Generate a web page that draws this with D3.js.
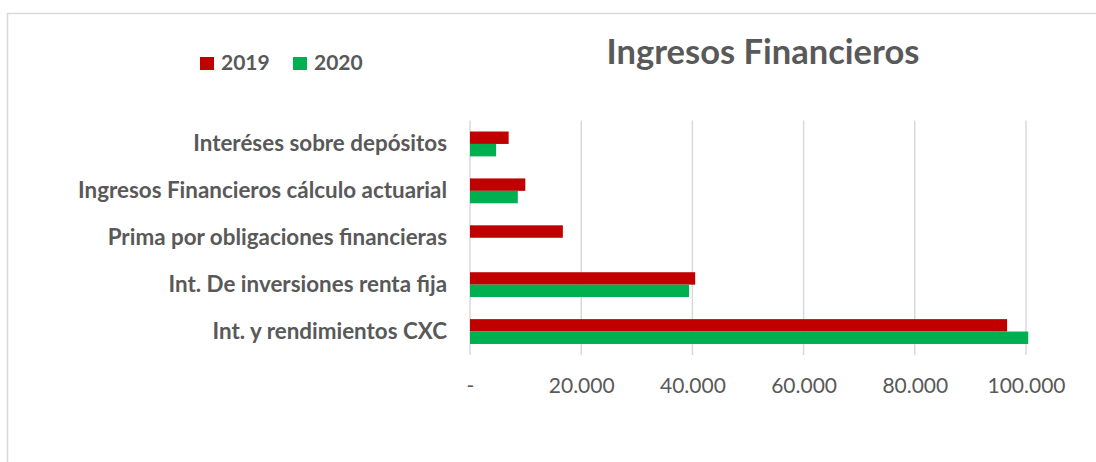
<!DOCTYPE html>
<html>
<head>
<meta charset="utf-8">
<script src="https://cdn.jsdelivr.net/npm/d3@7"></script>
<style>
  body { margin: 0; background: #fff; }
  text { font-family: Lato, "Open Sans", sans-serif; fill: #595959; }
</style>
</head>
<body>
<div id="container"></div>
<script>
// chart data
const categories = [
    'Interéses sobre depósitos',
    'Ingresos Financieros cálculo actuarial',
    'Prima por obligaciones financieras',
    'Int. De inversiones renta fija',
    'Int. y rendimientos CXC'
];
const seriesNames = ['2019', '2020'];
const values2019 = [6950, 9950, 16700, 40500, 96600];
const values2020 = [4700, 8600, 0, 39400, 100400];
const tickValues = [0, 20000, 40000, 60000, 80000, 100000];
const colors = ['#C00000', '#00B050'];

// svg dimensions
const width = 1096;
const height = 462;
const plot = { left: 470, right: 1026, top: 120.5, bottom: 355 };

const svg = d3.select('#container')
              .append('svg')
              .attr('width', width)
              .attr('height', height);

// chart frame
svg.append('rect')
   .attr('x', 7.5)
   .attr('y', 13.5)
   .attr('width', 1200)
   .attr('height', 600)
   .attr('fill', 'none')
   .attr('stroke', '#d9d9d9')
   .attr('stroke-width', 1.5);

// scales
const xScale = d3.scaleLinear()
                 .domain([0, 100000])
                 .range([plot.left, plot.right]);

const yScale = d3.scaleBand()
                 .domain(categories)
                 .range([plot.top, plot.bottom])
                 .paddingInner(0.47)
                 .paddingOuter(0.235);

const subScale = d3.scaleBand()
                   .domain(seriesNames)
                   .range([0, yScale.bandwidth()]);

// gridlines
svg.append('g')
   .selectAll('line')
   .data(tickValues)
   .enter()
   .append('line')
   .attr('x1', d => xScale(d))
   .attr('x2', d => xScale(d))
   .attr('y1', plot.top)
   .attr('y2', plot.bottom)
   .attr('stroke', '#d9d9d9')
   .attr('stroke-width', 1.5);

// x axis labels
const fmt = d => d === 0 ? '-' : d3.format(',')(d).replace(/,/g, '.');
const xAxis = d3.axisBottom(xScale)
                .tickValues(tickValues)
                .tickFormat(fmt)
                .tickSize(0)
                .tickPadding(0);

const gx = svg.append('g')
              .attr('transform', `translate(0, ${plot.bottom + 38})`)
              .call(xAxis);
gx.select('.domain').remove();
gx.selectAll('text')
  .attr('dy', 0)
  .style('font-size', '21px')
  .style('font-family', 'Lato, sans-serif')
  .attr('fill', '#595959');

// y axis labels
const yAxis = d3.axisLeft(yScale).tickSize(0).tickPadding(23);
const gy = svg.append('g')
              .attr('transform', `translate(${plot.left}, 0)`)
              .call(yAxis);
gy.select('.domain').remove();
gy.selectAll('text')
  .style('font-size', '22.4px')
  .style('font-weight', 'bold')
  .style('font-family', 'Lato, sans-serif')
  .attr('fill', '#595959');

// bars
const rows = categories.map((c, i) => ({ category: c, values: [values2019[i], values2020[i]] }));

const groups = svg.append('g')
                  .selectAll('g')
                  .data(rows)
                  .enter()
                  .append('g')
                  .attr('transform', d => `translate(0, ${yScale(d.category)})`);

groups.selectAll('rect')
      .data(d => d.values.map((v, j) => ({ series: seriesNames[j], value: v, color: colors[j] })))
      .enter()
      .append('rect')
      .attr('x', xScale(0))
      .attr('y', d => subScale(d.series))
      .attr('width', d => xScale(d.value) - xScale(0))
      .attr('height', subScale.bandwidth())
      .attr('fill', d => d.color);

// title
svg.append('text')
   .attr('x', 763)
   .attr('y', 64)
   .attr('text-anchor', 'middle')
   .style('font-size', '34.5px')
   .style('font-weight', 'bold')
   .text('Ingresos Financieros');

// legend
const legendX = [200, 293];
const legend = svg.append('g')
                  .selectAll('g')
                  .data(seriesNames)
                  .enter()
                  .append('g')
                  .attr('transform', (d, i) => `translate(${legendX[i]}, 57)`);

legend.append('rect')
      .attr('width', 14)
      .attr('height', 13)
      .attr('fill', (d, i) => colors[i]);

legend.append('text')
      .attr('x', 21)
      .attr('y', 13)
      .style('font-size', '21px')
      .style('font-weight', 'bold')
      .text(d => d);
</script>
</body>
</html>
